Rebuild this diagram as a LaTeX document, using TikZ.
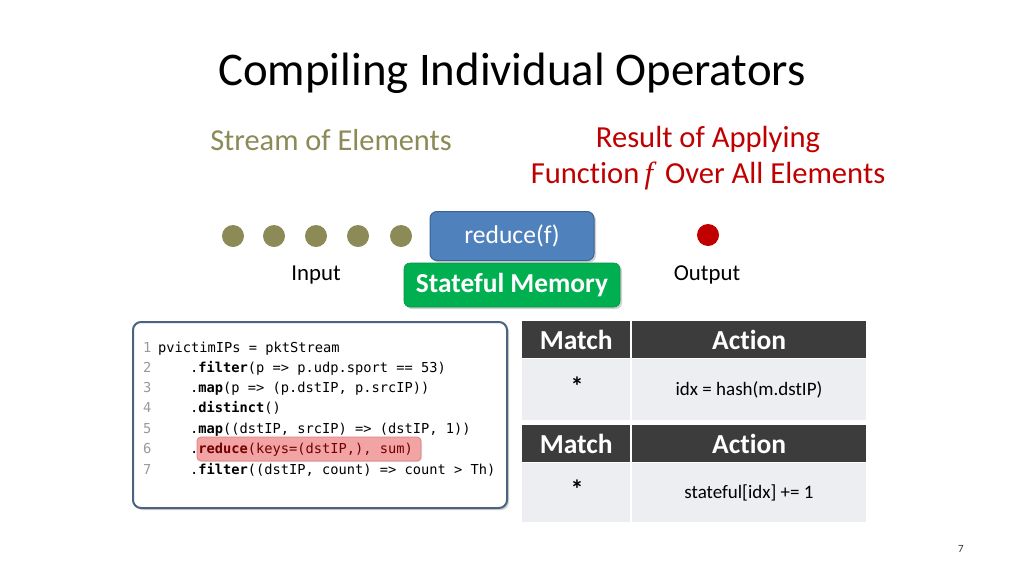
\documentclass[tikz,border=0pt]{standalone}
\usepackage{fontspec}
\setmainfont{Carlito}[Ligatures=NoCommon]
\newfontfamily\codefont{DejaVu Sans Mono}
\newfontfamily\ffont{Liberation Serif}
\usetikzlibrary{shadows}
\definecolor{olive}{HTML}{8C8A57}
\definecolor{resred}{HTML}{C00000}
\definecolor{redblue}{HTML}{4F81BD}
\definecolor{redblueb}{HTML}{3A6392}
\definecolor{smgreen}{HTML}{00B050}
\definecolor{hdr}{HTML}{3C3C3C}
\definecolor{bodyc}{HTML}{EDEEF2}
\definecolor{codeb}{HTML}{4A6380}
\definecolor{lnum}{HTML}{9A9A9A}
\definecolor{hlfill}{HTML}{F2A3A3}
\definecolor{hlline}{HTML}{E08080}
\newcommand{\fsz}[1]{\fontsize{#1}{#1}\selectfont}
\tikzset{
  dot/.style={circle,fill=olive,minimum size=22pt,inner sep=0pt},
  codeline/.style={anchor=base west,inner sep=0pt,font=\codefont\fsz{13.7}},
  lnumst/.style={anchor=base west,inner sep=0pt,text=lnum,font=\codefont\fsz{13.7}},
  hcell/.style={fill=hdr,text=white,font=\bfseries\fsz{27.5},inner sep=0pt,anchor=north west},
  bcell/.style={fill=bodyc,inner sep=0pt,anchor=north west},
  lbl/.style={font=\fsz{22.8},inner sep=0pt}
}
\begin{document}
\begin{tikzpicture}[x=1pt,y=-1pt]
\useasboundingbox[fill=white] (0,0) rectangle (1024,576);
% title
\node[font=\fsz{46.8}] (title) at (512,73) {Compiling Individual Operators};
\node[font=\fsz{30.4},text=olive] (stream) at (331,140) {Stream of Elements};
\node[font=\fsz{30.6},text=resred] (res1) at (708,140) {Result of Applying};
\node[font=\fsz{30.6},text=resred] (res2) at (708,176) {Function{\ffont\itshape\,f\,} Over All Elements};
% dots
\foreach \i/\x in {1/233,2/274,3/316,4/358,5/401}{
  \node[dot] (d\i) at (\x,236) {};
}
\node[circle,fill=resred,minimum size=22pt,inner sep=0pt] (out) at (708,235) {};
\node[lbl] (inl) at (316,275) {Input};
\node[lbl] (outl) at (707,275) {Output};
% reduce box and stateful memory
\node[fill=smgreen,draw=smgreen!85!black,line width=0.6pt,rounded corners=6pt,minimum width=216pt,minimum height=44pt,
  text=white,font=\bfseries\fsz{27.4},drop shadow={opacity=0.35,shadow xshift=2pt,shadow yshift=-2pt},inner sep=0pt] (sm) at (512,285) {Stateful Memory};
\node[fill=redblue,draw=redblueb,line width=1pt,rounded corners=7pt,minimum width=164pt,minimum height=49pt,
  text=white,font=\fsz{25.6},drop shadow={opacity=0.35,shadow xshift=2pt,shadow yshift=-2pt},inner sep=0pt] (red) at (512,236) {reduce(f)};
% code box
\node[draw=codeb,line width=2pt,rounded corners=8pt,fill=white,minimum width=374pt,minimum height=186pt,
  drop shadow={opacity=0.35,shadow xshift=2pt,shadow yshift=-2pt},inner sep=0pt] (codebox) at (320,415) {};
\node[fill=hlfill,draw=hlline,line width=0.8pt,rounded corners=4pt,minimum width=224pt,minimum height=24pt,inner sep=0pt,
  drop shadow={opacity=0.2,shadow xshift=1pt,shadow yshift=-1pt}] (hl) at (309,449) {};
\foreach \n/\y in {1/352,2/372,3/392,4/412,5/433,6/453,7/474}{
  \node[lnumst] (ln\n) at (143,\y) {\n};
}
\node[codeline] (c1) at (158,352) {pvictimIPs = pktStream};
\node[codeline] (c2) at (190,372) {.\textbf{filter}(p => p.udp.sport == 53)};
\node[codeline] (c3) at (190,392) {.\textbf{map}(p => (p.dstIP, p.srcIP))};
\node[codeline] (c4) at (190,412) {.\textbf{distinct}()};
\node[codeline] (c5) at (190,433) {.\textbf{map}((dstIP, srcIP) => (dstIP, 1))};
\node[codeline] (c6) at (190,453) {.\textcolor{resred!60!black}{\textbf{reduce}(keys=(dstIP,), sum)}};
\node[codeline] (c7) at (190,474) {.\textbf{filter}((dstIP, count) => count > Th)};
% tables
\node[hcell,minimum width=108pt,minimum height=37pt] (m1) at (522,321) {Match};
\node[hcell,minimum width=234pt,minimum height=37pt] (a1) at (632,321) {Action};
\node[bcell,minimum width=108pt,minimum height=61pt] (m1b) at (522,359) {};
\node[bcell,minimum width=234pt,minimum height=61pt] (a1b) at (632,359) {};
\node[font=\bfseries\fsz{26},inner sep=0pt] (s1) at (577,386) {*};
\node[font=\fsz{19},inner sep=0pt] (t1) at (749,390) {idx = hash(m.dstIP)};
\node[hcell,minimum width=108pt,minimum height=37pt] (m2) at (522,425) {Match};
\node[hcell,minimum width=234pt,minimum height=37pt] (a2) at (632,425) {Action};
\node[bcell,minimum width=108pt,minimum height=59pt] (m2b) at (522,463) {};
\node[bcell,minimum width=234pt,minimum height=59pt] (a2b) at (632,463) {};
\node[font=\bfseries\fsz{26},inner sep=0pt] (s2) at (577,489) {*};
\node[font=\fsz{19},inner sep=0pt] (t2) at (749,493) {stateful[idx] += 1};
% page number
\node[font=\fsz{11},text=black!80] (pg) at (961,549) {7};
\end{tikzpicture}
\end{document}
